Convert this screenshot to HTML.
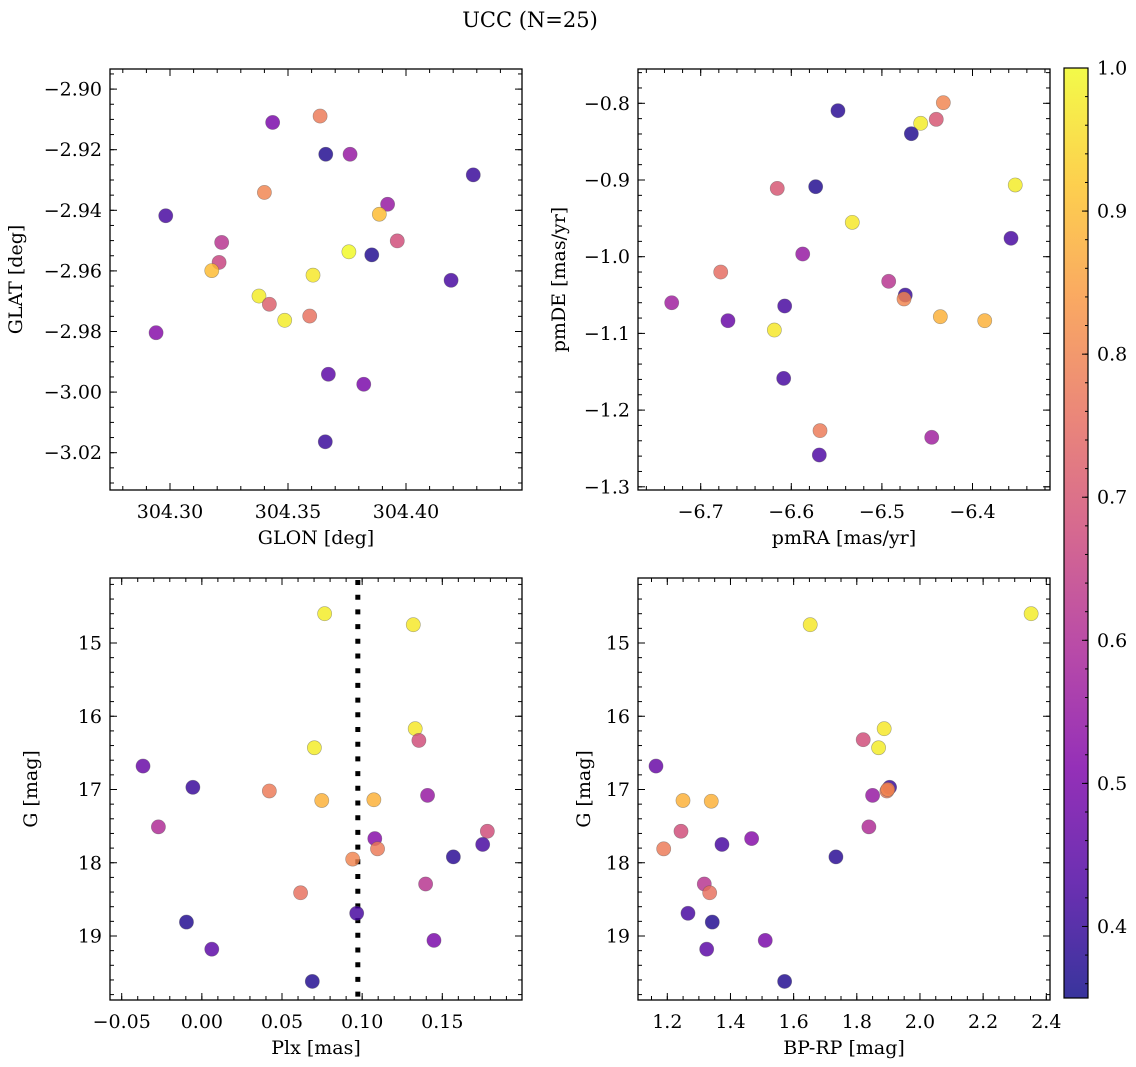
<!DOCTYPE html>
<html><head><meta charset="utf-8"><title>UCC (N=25)</title>
<style>
html,body{margin:0;padding:0;background:#fff;}
svg{display:block;font-family:"DejaVu Serif","Liberation Serif",serif;}
</style></head>
<body>
<svg id="fig" xmlns="http://www.w3.org/2000/svg" width="1136" height="1067" viewBox="0 0 1136 1067">
<defs>
<linearGradient id="plasmaGrad" x1="0" y1="1" x2="0" y2="0">
<stop offset="0" stop-color="#0d0887"/><stop offset="0.125" stop-color="#4c02a1"/>
<stop offset="0.25" stop-color="#7e03a8"/><stop offset="0.375" stop-color="#a92395"/>
<stop offset="0.5" stop-color="#cc4778"/><stop offset="0.625" stop-color="#e66c5c"/>
<stop offset="0.75" stop-color="#f89540"/><stop offset="0.875" stop-color="#fdc527"/>
<stop offset="1" stop-color="#f0f921"/>
</linearGradient>
</defs>
<text x="530" y="27" font-size="21" text-anchor="middle">UCC (N=25)</text>
</svg>
<script>
// ---------- data ----------
const p1Glon=[304.3435,304.3636,304.3660,304.3763,304.4285,304.2982,304.3400,304.3922,304.3887,304.3219,304.3963,304.3758,304.3855,304.3208,304.3177,304.3606,304.4191,304.3377,304.3421,304.3486,304.3592,304.2941,304.3671,304.3821,304.3658];
const p1Glat=[-2.9110,-2.9089,-2.9215,-2.9215,-2.9283,-2.9418,-2.9341,-2.9380,-2.9413,-2.9506,-2.9501,-2.9537,-2.9547,-2.9572,-2.9599,-2.9614,-2.9631,-2.9683,-2.9710,-2.9763,-2.9749,-2.9804,-2.9941,-2.9974,-3.0164];
const p1Prob=[0.50,0.78,0.37,0.55,0.40,0.42,0.80,0.55,0.90,0.62,0.68,1.00,0.37,0.66,0.90,0.97,0.42,0.98,0.72,0.98,0.76,0.52,0.45,0.50,0.40];
const p2PmRA=[-6.5485,-6.4322,-6.4400,-6.4572,-6.4675,-6.6155,-6.5731,-6.3528,-6.5327,-6.3575,-6.5874,-6.6779,-6.4925,-6.4742,-6.4756,-6.7320,-6.6073,-6.4355,-6.6699,-6.3865,-6.6187,-6.6084,-6.5683,-6.4450,-6.5691];
const p2PmDE=[-0.8096,-0.7992,-0.8209,-0.8261,-0.8396,-0.9109,-0.9087,-0.9065,-0.9552,-0.9760,-0.9965,-1.0200,-1.0321,-1.0500,-1.0551,-1.0600,-1.0643,-1.0782,-1.0834,-1.0834,-1.0956,-1.1586,-1.2268,-1.2355,-1.2585];
const p2Prob=[0.38,0.80,0.70,0.98,0.37,0.70,0.37,0.98,0.97,0.42,0.55,0.75,0.62,0.40,0.80,0.57,0.42,0.88,0.47,0.88,0.97,0.42,0.78,0.57,0.43];
const p3Plx=[0.0766,0.1319,0.1331,0.1354,0.0702,-0.0367,-0.0056,0.0421,0.0748,0.1073,0.1408,-0.0271,0.1781,0.1079,0.1752,0.1096,0.1569,0.0941,0.1396,0.0616,0.0966,-0.0096,0.1448,0.0062,0.0689];
const p3G=[14.60,14.75,16.17,16.33,16.43,16.68,16.97,17.02,17.15,17.14,17.08,17.51,17.57,17.67,17.75,17.81,17.92,17.95,18.29,18.41,18.69,18.81,19.06,19.18,19.62];
const p3Prob=[0.98,0.97,0.97,0.68,0.98,0.47,0.40,0.78,0.88,0.88,0.55,0.60,0.68,0.52,0.42,0.78,0.38,0.80,0.62,0.76,0.42,0.37,0.50,0.45,0.37];
const plxLine=[0.0973];
const p4BpRp=[2.352,1.6525,1.8867,1.8203,1.8690,1.1642,1.9038,1.8953,1.8500,1.2497,1.3392,1.8383,1.2434,1.4670,1.3731,1.1886,1.7339,1.3171,1.3342,1.2655,1.3424,1.5101,1.3247,1.5715,1.8980];
const p4G=[14.60,14.75,16.17,16.32,16.43,16.68,16.97,17.02,17.08,17.15,17.16,17.51,17.57,17.67,17.75,17.81,17.92,18.29,18.41,18.69,18.81,19.06,19.18,19.62,17.00];
const p4Prob=[0.98,0.97,0.97,0.68,0.98,0.47,0.40,0.78,0.55,0.88,0.88,0.60,0.68,0.52,0.42,0.78,0.38,0.62,0.76,0.42,0.37,0.50,0.45,0.37,0.80];
const p1XTicks=[304.30,304.35,304.40];
const p1YTicks=[-2.90,-2.92,-2.94,-2.96,-2.98,-3.00,-3.02];
const p2XTicks=[-6.7,-6.6,-6.5,-6.4];
const p2YTicks=[-0.8,-0.9,-1.0,-1.1,-1.2,-1.3];
const p3XTicks=[-0.05,0.00,0.05,0.10,0.15];
const gTicks=[15,16,17,18,19];
const p4XTicks=[1.2,1.4,1.6,1.8,2.0,2.2,2.4];
const cbTicks=[0.4,0.5,0.6,0.7,0.8,0.9,1.0];
const cbMin=0.35, cbMax=1.0;

// ---------- helpers ----------
const NS="http://www.w3.org/2000/svg";
const svg=document.getElementById('fig');
const FS=19;
function mk(tag,attrs,parent){const e=document.createElementNS(NS,tag);for(const k in attrs)e.setAttribute(k,attrs[k]);(parent||svg).appendChild(e);return e;}
const stops=[[0,[13,8,135]],[0.125,[76,2,161]],[0.25,[126,3,168]],[0.375,[169,35,149]],[0.5,[204,71,120]],[0.625,[230,108,92]],[0.75,[248,149,64]],[0.875,[253,197,39]],[1,[240,249,33]]];
function plasma(t){t=Math.max(0,Math.min(1,t));for(let i=1;i<stops.length;i++){if(t<=stops[i][0]){const a=stops[i-1],b=stops[i];const f=(t-a[0])/(b[0]-a[0]);const c=a[1].map((v,j)=>Math.round(v+(b[1][j]-v)*f));return `rgb(${c[0]},${c[1]},${c[2]})`;}}return 'rgb(240,249,33)';}
function fmt(v,d){const s=Math.abs(v).toFixed(d);return (v<-1e-9?'\u2212':'')+s;}
function lin(v0,p0,v1,p1){const s=(p1-p0)/(v1-v0);const f=v=>p0+(v-v0)*s;f.inv=p=>v0+(p-p0)/s;return f;}

function panel(o){
  const g=mk('g',{});
  
  
  const [L,T,R,B]=o.box;
  function ticksX(step,len){
    const a=Math.min(o.x.inv(L),o.x.inv(R)),b=Math.max(o.x.inv(L),o.x.inv(R));
    for(let v=Math.ceil(a/step-1e-6)*step;v<=b+1e-9;v+=step){const px=o.x(v);if(px<L+0.5||px>R-0.5)continue;
      mk('line',{x1:px,x2:px,y1:B,y2:B-len,stroke:'#000','stroke-width':1},g);
      mk('line',{x1:px,x2:px,y1:T,y2:T+len,stroke:'#000','stroke-width':1},g);}
  }
  function ticksY(step,len){
    const a=Math.min(o.y.inv(T),o.y.inv(B)),b=Math.max(o.y.inv(T),o.y.inv(B));
    for(let v=Math.ceil(a/step-1e-6)*step;v<=b+1e-9;v+=step){const py=o.y(v);if(py<T+0.5||py>B-0.5)continue;
      mk('line',{x1:L,x2:L+len,y1:py,y2:py,stroke:'#000','stroke-width':1},g);
      mk('line',{x1:R,x2:R-len,y1:py,y2:py,stroke:'#000','stroke-width':1},g);}
  }
  ticksX(o.xMinor,4);ticksY(o.yMinor,4);
  ticksX(o.xMajor,7);ticksY(o.yMajor,7);
  o.xTicks.forEach(v=>{const t=mk('text',{x:o.x(v),y:B+28,'font-size':FS,'text-anchor':'middle'},g);t.textContent=fmt(v,o.xDec);
    
    });
  o.yTicks.forEach(v=>{const t=mk('text',{x:L-8,y:o.y(v)+6.5,'font-size':FS,'text-anchor':'end'},g);t.textContent=fmt(v,o.yDec);
    
    });
  const xl=mk('text',{x:(L+R)/2,y:B+54,'font-size':FS,'text-anchor':'middle'},g);xl.textContent=o.xLabel;
  
  
  const yl=mk('text',{x:o.yLabelX,y:(T+B)/2,'font-size':FS,'text-anchor':'middle',transform:`rotate(-90 ${o.yLabelX} ${(T+B)/2})`},g);yl.textContent=o.yLabel;
  
  
  if(o.vline){o.vline.forEach(v=>{const l=mk('line',{x1:o.x(v),x2:o.x(v),y1:T+2,y2:B,stroke:'#000','stroke-width':5,'stroke-dasharray':'5 9.7'},g);
    
    });}
  o.xs.forEach((xv,i)=>{const c=mk('circle',{cx:o.x(xv),cy:o.y(o.ys[i]),r:7.1,fill:plasma((o.c[i]-cbMin)/(cbMax-cbMin)),'fill-opacity':0.82,stroke:'#555','stroke-opacity':0.5,'stroke-width':0.6},g);
    
    });
  const fr=mk('rect',{x:L,y:T,width:R-L,height:B-T,fill:'none',stroke:'#000','stroke-width':1.3},g);
  
  
}

panel({name:'glon-glat-panel',box:[110,69,522,490],x:lin(304.30,170,304.35,288),y:lin(-2.90,89.1,-3.02,452.7),
  xMajor:0.05,xMinor:0.01,yMajor:0.02,yMinor:0.005,xTicks:p1XTicks,yTicks:p1YTicks,xDec:2,yDec:2,
  xLabel:'GLON [deg]',yLabel:'GLAT [deg]',yLabelX:22,xs:p1Glon,ys:p1Glat,c:p1Prob});
panel({name:'proper-motion-panel',box:[638,69,1050,490],x:lin(-6.7,700.7,-6.4,972.5),y:lin(-0.8,103.3,-1.3,486.8),
  xMajor:0.1,xMinor:0.02,yMajor:0.1,yMinor:0.02,xTicks:p2XTicks,yTicks:p2YTicks,xDec:1,yDec:1,
  xLabel:'pmRA [mas/yr]',yLabel:'pmDE [mas/yr]',yLabelX:565,xs:p2PmRA,ys:p2PmDE,c:p2Prob});
panel({name:'plx-g-panel',box:[110,578,522,1000],x:lin(-0.05,121.7,0.15,442.3),y:lin(15,643,19,936),
  xMajor:0.05,xMinor:0.01,yMajor:1,yMinor:0.2,xTicks:p3XTicks,yTicks:gTicks,xDec:2,yDec:0,
  xLabel:'Plx [mas]',yLabel:'G [mag]',yLabelX:37,xs:p3Plx,ys:p3G,c:p3Prob,vline:plxLine});
panel({name:'cmd-panel',box:[638,578,1050,1000],x:lin(1.2,667.3,2.4,1046.3),y:lin(15,643,19,936),
  xMajor:0.2,xMinor:0.05,yMajor:1,yMinor:0.2,xTicks:p4XTicks,yTicks:gTicks,xDec:1,yDec:0,
  xLabel:'BP-RP [mag]',yLabel:'G [mag]',yLabelX:590,xs:p4BpRp,ys:p4G,c:p4Prob});

// ---------- colorbar ----------
const cb=mk('g',{});


const cbT=68,cbB=998,cbL=1064,cbR=1088;
const cy=lin(cbMin,cbB,cbMax,cbT);
mk('rect',{x:cbL,y:cbT,width:cbR-cbL,height:cbB-cbT,fill:'url(#plasmaGrad)','fill-opacity':0.82},cb);
for(let v=0.36;v<=1.0001;v+=0.02){const py=cy(v);if(py<cbT+1||py>cbB-1)continue;mk('line',{x1:cbR,x2:cbR-3,y1:py,y2:py,stroke:'#000','stroke-width':1},cb);}
cbTicks.forEach(v=>{const py=cy(v);mk('line',{x1:cbR,x2:cbR-6,y1:py,y2:py,stroke:'#000','stroke-width':1},cb);
  const t=mk('text',{x:cbR+9,y:py+6.5,'font-size':FS},cb);t.textContent=v.toFixed(1);
  
  });
mk('rect',{x:cbL,y:cbT,width:cbR-cbL,height:cbB-cbT,fill:'none',stroke:'#000','stroke-width':1.2},cb);
</script>
</body></html>
